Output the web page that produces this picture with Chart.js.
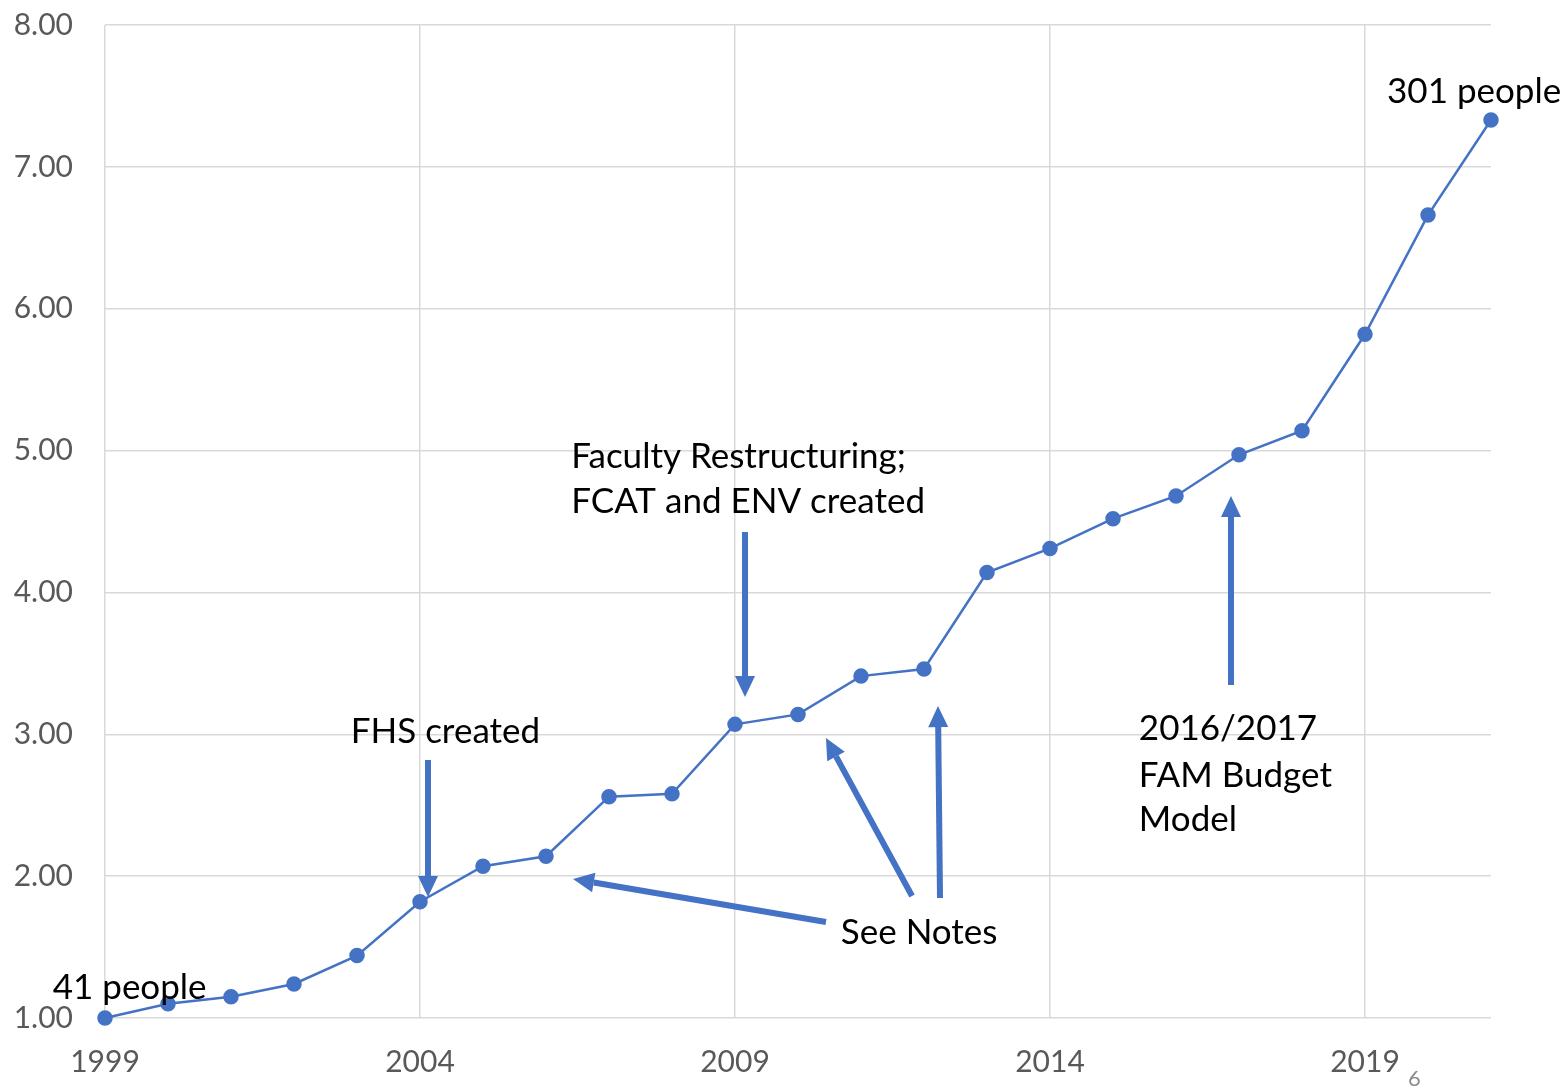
<!DOCTYPE html>
<html lang="en">
<head>
  <meta charset="UTF-8" />
  <title>Growth since 1999</title>
  <script src="https://cdn.jsdelivr.net/npm/chart.js"></script>
  <style>
    html, body { margin: 0; padding: 0; background: #fff; }
    #wrap { position: relative; width: 1566px; height: 1090px; }
    #pageNo { position: absolute; left: 1408px; top: 1064px; font: 22px Lato, sans-serif; color: #8c8c8c; }
  </style>
</head>
<body>
<div id="wrap">
  <canvas id="chart" width="1566" height="1090"></canvas>
  <div id="pageNo">6</div>
</div>
<script>
const years = [1999, 2000, 2001, 2002, 2003, 2004, 2005, 2006, 2007, 2008, 2009, 2010,
               2011, 2012, 2013, 2014, 2015, 2016, 2017, 2018, 2019, 2020, 2021];
const ratio = [1.00, 1.10, 1.15, 1.24, 1.44, 1.82, 2.07, 2.14, 2.56, 2.58, 3.07, 3.14,
               3.41, 3.46, 4.14, 4.31, 4.52, 4.68, 4.97, 5.14, 5.82, 6.66, 7.33];
const xTicks = [1999, 2004, 2009, 2014, 2019];
const yTicks = [1, 2, 3, 4, 5, 6, 7, 8];

// notes placed in data units (year, ratio)
const notes = [
  { text: '41 people', x: 1998.17, y: 1.21 },
  { text: '301 people', x: 2019.35, y: 7.53 },
  { text: 'FHS created', x: 2002.90, y: 3.02 },
  { text: 'Faculty Restructuring;', x: 2006.40, y: 4.955 },
  { text: 'FCAT and ENV created', x: 2006.40, y: 4.64 },
  { text: 'See Notes', x: 2010.68, y: 1.60 },
  { text: '2016/2017', x: 2015.41, y: 3.04 },
  { text: 'FAM Budget', x: 2015.41, y: 2.71 },
  { text: 'Model', x: 2015.41, y: 2.40 }
];
const arrows = [
  { from: [2004.127, 2.819], to: [2004.127, 1.853] },
  { from: [2009.159, 4.426], to: [2009.159, 3.263] },
  { from: [2010.444, 1.677], to: [2006.429, 1.980] },
  { from: [2011.810, 1.860], to: [2010.444, 2.974] },
  { from: [2012.254, 1.846], to: [2012.222, 3.199] },
  { from: [2016.873, 3.347], to: [2016.873, 4.680] }
];

const blue = '#4472C4';

const notesPlugin = {
  id: 'notes',
  afterDatasetsDraw(chart) {
    const { ctx, scales: { x, y } } = chart;
    ctx.save();
    ctx.strokeStyle = blue;
    ctx.fillStyle = blue;
    arrows.forEach(a => {
      const x1 = x.getPixelForValue(a.from[0]), y1 = y.getPixelForValue(a.from[1]);
      const x2 = x.getPixelForValue(a.to[0]), y2 = y.getPixelForValue(a.to[1]);
      const ang = Math.atan2(y2 - y1, x2 - x1);
      const headLen = 21, headW = 10;
      const bx = x2 - headLen * Math.cos(ang), by = y2 - headLen * Math.sin(ang);
      ctx.lineWidth = 6;
      ctx.beginPath();
      ctx.moveTo(x1, y1);
      ctx.lineTo(bx, by);
      ctx.stroke();
      ctx.beginPath();
      ctx.moveTo(x2, y2);
      ctx.lineTo(bx + headW * Math.sin(ang), by - headW * Math.cos(ang));
      ctx.lineTo(bx - headW * Math.sin(ang), by + headW * Math.cos(ang));
      ctx.closePath();
      ctx.fill();
    });
    ctx.fillStyle = '#000';
    ctx.font = '35px Lato, "Open Sans", sans-serif';
    ctx.textAlign = 'left';
    ctx.textBaseline = 'middle';
    notes.forEach(n => {
      ctx.fillText(n.text, x.getPixelForValue(n.x), y.getPixelForValue(n.y));
    });
    ctx.restore();
  }
};

new Chart(document.getElementById('chart'), {
  type: 'line',
  data: {
    datasets: [{
      data: years.map((yr, i) => ({ x: yr, y: ratio[i] })),
      borderColor: blue,
      backgroundColor: blue,
      borderWidth: 2.5,
      pointRadius: 6.5,
      pointHoverRadius: 6.5,
      tension: 0,
      clip: false
    }]
  },
  options: {
    responsive: false,
    animation: false,
    layout: { padding: { top: 25, right: 75, bottom: 0, left: 0 } },
    plugins: { legend: { display: false }, tooltip: { enabled: false } },
    scales: {
      x: {
        type: 'linear',
        min: 1999,
        max: 2021,
        afterBuildTicks: s => { s.ticks = xTicks.map(v => ({ value: v })); },
        afterFit: s => { s.height = 72; s.paddingLeft = 0; s.paddingRight = 0; },
        grid: { color: '#d9d9d9', lineWidth: 1.5, drawTicks: false },
        border: { display: false },
        ticks: {
          padding: 26,
          color: '#595959',
          font: { family: 'Lato, "Open Sans", sans-serif', size: 30 },
          callback: v => String(v),
          maxRotation: 0
        }
      },
      y: {
        min: 1,
        max: 8,
        afterBuildTicks: s => { s.ticks = yTicks.map(v => ({ value: v })); },
        afterFit: s => { s.width = 105; s.paddingTop = 0; s.paddingBottom = 0; },
        grid: { color: '#d9d9d9', lineWidth: 1.5, drawTicks: false },
        border: { display: false },
        ticks: {
          padding: 32,
          color: '#595959',
          font: { family: 'Lato, "Open Sans", sans-serif', size: 30 },
          callback: v => v.toFixed(2)
        }
      }
    }
  },
  plugins: [notesPlugin]
});
</script>
</body>
</html>
